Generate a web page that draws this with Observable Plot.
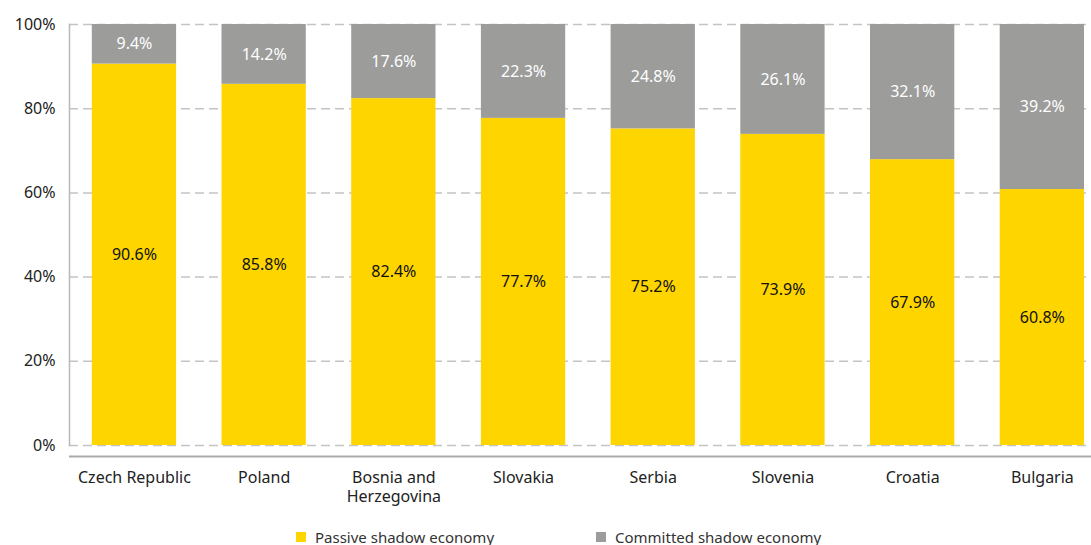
<!DOCTYPE html>
<html>
<head>
<meta charset="utf-8">
<script src="https://cdn.jsdelivr.net/npm/d3@7"></script>
<script src="https://cdn.jsdelivr.net/npm/@observablehq/plot@0.6"></script>
<style>
  html, body { margin: 0; padding: 0; background: #fff; overflow: hidden; }
  #chart svg { display: block; }
  .legend { display: flex; font-family: "Noto Sans", sans-serif; font-size: 15px; color: #333; padding-top: 9px; line-height: 16px; }
  .legend .item { display: flex; align-items: center; position: absolute; }
  .legend .sw { width: 10px; height: 10px; margin-right: 9px; }
</style>
</head>
<body>
<div id="chart"></div>
<script>
const countries = ["Czech Republic", "Poland", "Bosnia and Herzegovina", "Slovakia", "Serbia", "Slovenia", "Croatia", "Bulgaria"];
const passive = [90.6, 85.8, 82.4, 77.7, 75.2, 73.9, 67.9, 60.8];
const committed = [9.4, 14.2, 17.6, 22.3, 24.8, 26.1, 32.1, 39.2];
const seriesNames = ["Passive shadow economy", "Committed shadow economy"];
const seriesColors = ["#FFD500", "#9c9c9b"];
const labelColors = ["#111111", "#ffffff"];
const yTicks = [0, 20, 40, 60, 80, 100];

const data = [];
countries.forEach((c, i) => {
  data.push({country: c, series: seriesNames[0], value: passive[i]});
  data.push({country: c, series: seriesNames[1], value: committed[i]});
});

const W = 1091, H = 520;
const font = "Noto Sans, sans-serif";

const chart = Plot.plot({
  width: W,
  height: H,
  marginTop: 24,
  marginBottom: H - 445,
  marginLeft: 69,
  marginRight: 0,
  style: {fontFamily: font, fontSize: "16px", color: "#222", background: "#fff"},
  x: {domain: countries, type: "band", paddingInner: 0.35, paddingOuter: 0.175, range: [69.1, 1106.7], round: false, label: null},
  y: {domain: [0, 100], label: null},
  color: {domain: seriesNames, range: seriesColors},
  marks: [
    Plot.gridY(yTicks, {stroke: "#c4c4c4", strokeOpacity: 1, strokeWidth: 1.5, strokeDasharray: "9,5"}),
    Plot.barY(data, {x: "country", y: "value", fill: "series", order: seriesNames}),
    Plot.text(data, Plot.stackY({
      x: "country", y: "value", z: "series", order: seriesNames,
      text: d => d.value.toFixed(1) + "%",
      fill: d => labelColors[seriesNames.indexOf(d.series)],
      fontSize: 16
    })),
    Plot.axisY(yTicks, {tickSize: 0, tickPadding: 14, tickFormat: d => d + "%", fontSize: 16, fill: "#222"}),
    Plot.axisX({tickSize: 0, tickPadding: 24, fontSize: 16, fill: "#222", lineHeight: 1.2,
      tickFormat: d => d === "Bosnia and Herzegovina" ? "Bosnia and\nHerzegovina" : d}),
    Plot.frame({anchor: "left", stroke: "#b8b8b8", strokeWidth: 1.5}),
    Plot.ruleY([0], {dy: 11, stroke: "#aaaaaa", strokeWidth: 2})
  ]
});
document.getElementById("chart").appendChild(chart);

const legend = document.createElement("div");
legend.className = "legend";
legend.style.position = "relative";
legend.style.height = "25px";
const legendX = [296, 596];
seriesNames.forEach((s, i) => {
  const it = document.createElement("div");
  it.className = "item";
  it.style.left = legendX[i] + "px";
  const sw = document.createElement("span");
  sw.className = "sw";
  sw.style.background = seriesColors[i];
  const tx = document.createElement("span");
  tx.textContent = s;
  it.appendChild(sw);
  it.appendChild(tx);
  legend.appendChild(it);
});
document.body.appendChild(legend);
</script>
</body>
</html>
